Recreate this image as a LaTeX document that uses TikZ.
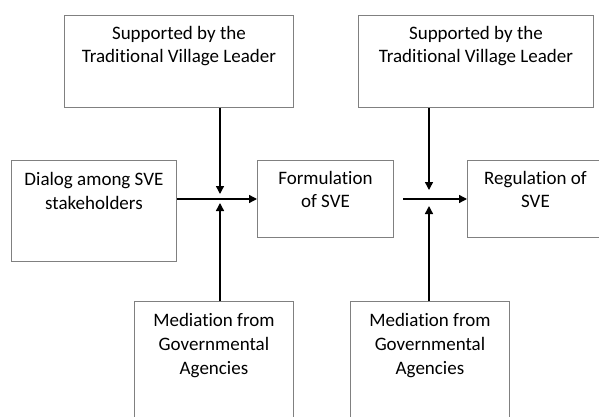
\documentclass[tikz,border=0pt]{standalone}
\usepackage{fontspec}
\setmainfont{Carlito}[RawFeature={-liga}]
\usetikzlibrary{arrows.meta}
\tikzset{
  box/.style={draw=black!50, line width=0.9pt, rectangle, anchor=north west, inner sep=0pt},
  txt/.style={anchor=north, align=center, inner sep=0pt, font=\fontsize{19}{23.6}\selectfont},
  conn/.style={line width=1.4pt, -{Triangle[length=8pt,width=8pt]}}
}
\begin{document}
\begin{tikzpicture}[x=1pt,y=-1pt]
\useasboundingbox (0,0) rectangle (599,417);
\clip (0,0) rectangle (599,417);
% boxes
\node[box, minimum width=229pt, minimum height=92pt] (top1) at (64,15) {};
\node[box, minimum width=235pt, minimum height=92pt] (top2) at (358,15) {};
\node[box, minimum width=165pt, minimum height=101pt] (dialog) at (11,160) {};
\node[box, minimum width=136pt, minimum height=77pt] (form) at (257,160) {};
\node[box, minimum width=136pt, minimum height=77pt] (reg) at (467,160) {};
\node[box, minimum width=159pt, minimum height=140pt] (med1) at (134,301) {};
\node[box, minimum width=159pt, minimum height=140pt] (med2) at (350,301) {};
% texts
\node[txt] (ttop1) at ([yshift=-11pt]top1.north) {Supported by the\\Traditional Village Leader};
\node[txt] (ttop2) at ([yshift=-11pt]top2.north) {Supported by the\\Traditional Village Leader};
\node[txt] (tdialog) at ([yshift=-12.5pt]dialog.north) {Dialog among SVE\\stakeholders};
\node[txt] (tform) at ([yshift=-11pt]form.north) {Formulation\\of SVE};
\node[txt] (treg) at ([yshift=-11pt]reg.north) {Regulation of\\SVE};
\node[txt] (tmed1) at ([yshift=-12.5pt]med1.north) {Mediation from\\Governmental\\Agencies};
\node[txt] (tmed2) at ([yshift=-12.5pt]med2.north) {Mediation from\\Governmental\\Agencies};
% junction coordinates
\coordinate (d1) at (220,194);
\coordinate (u1) at (220,203);
\coordinate (h1) at (0,199);
\coordinate (d2) at (429,190);
\coordinate (u2) at (429,206);
\coordinate (s2) at (403,199);
% connectors
\draw[conn] (top1.south -| d1) -- (d1);
\draw[conn] (med1.north -| u1) -- (u1);
\draw[conn] (dialog.east |- h1) -- (form.west |- h1);
\draw[conn] (top2.south -| d2) -- (d2);
\draw[conn] (med2.north -| u2) -- (u2);
\draw[conn] (s2) -- (reg.west |- s2);
\end{tikzpicture}
\end{document}
